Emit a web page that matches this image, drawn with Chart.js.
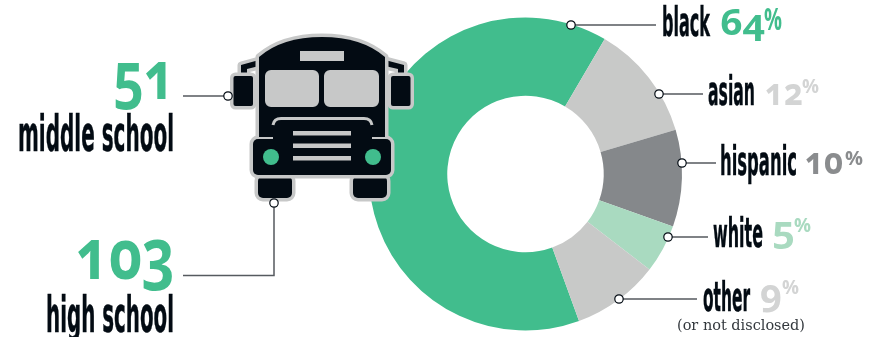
<!DOCTYPE html>
<html>
<head>
<meta charset="utf-8">
<title>Enrollment</title>
<script src="https://cdn.jsdelivr.net/npm/chart.js@4"></script>
<style>
    html, body { margin: 0; background: #fff; }
    #wrap { position: relative; width: 869px; height: 337px; overflow: hidden; }
    #chart, #labels { position: absolute; left: 0; top: 0; }
    .name { font-family: "DejaVu Sans"; font-weight: 700; fill: #030b13; stroke: #030b13; stroke-width: 0.5; }
    .num { font-family: "Open Sans"; font-weight: 700; font-feature-settings: "onum"; }
    .pct { font-family: "Open Sans"; font-weight: 700; }
    .note { font-family: "DejaVu Serif"; fill: #33383d; }
</style>
</head>
<body>
<div id="wrap">
    <canvas id="chart" width="869" height="337"></canvas>
    <svg id="labels" width="869" height="337"></svg>
</div>
<script>
const categories = ["black", "asian", "hispanic", "white", "other"];
const shares = [64, 12, 10, 5, 9];
const sliceColors = ["#41bd8d", "#c8c9c8", "#85888b", "#a9dac0", "#c8c9c8"];
const valueColors = ["#41bd8d", "#d3d4d4", "#8a8c8e", "#a9dac0", "#d3d4d4"];

const schools = ["middle school", "high school"];
const schoolCounts = [51, 103];

const INK = "#030b13";
const LEADER = "#565a5f";
const SHELL = "#c7c8c8";

// =========================
// LABEL LAYOUT
// =========================
const sliceLabels = [
    { dot: [571, 25], lineEnd: 656, name: [662, 36, 48], value: [720, 35, 45, 36], pct: [764, 30, 18, 30] },
    { dot: [659, 94], lineEnd: 703, name: [708, 105, 47], value: [765, 105, 38, 37], pct: [802, 93, 17, 20] },
    { dot: [682, 163], lineEnd: 716, name: [720, 175, 77], value: [805, 174, 38, 37], pct: [845, 165, 18, 20] },
    { dot: [668, 237], lineEnd: 708, name: [713, 247, 50], value: [772, 243, 23, 37], pct: [794, 232, 17, 20] },
    { dot: [619, 299], lineEnd: 697, name: [703, 311, 47], value: [760, 306, 22, 37], pct: [782, 294, 17, 20] }
];
const schoolLabels = [
    { name: [18, 151, 156], value: [113, 99, 62, 67] },
    { name: [46, 332, 128], value: [76, 279, 99, 69] }
];

// =========================
// SVG TEXT
// =========================
const svg = document.getElementById("labels");

function addText(cls, x, y, width, size, str, fill) {
    const t = document.createElementNS("http://www.w3.org/2000/svg", "text");
    t.setAttribute("class", cls);
    t.setAttribute("x", x);
    t.setAttribute("y", y);
    t.setAttribute("textLength", width);
    t.setAttribute("lengthAdjust", "spacingAndGlyphs");
    t.setAttribute("font-size", size);
    if (fill) t.setAttribute("fill", fill);
    t.textContent = str;
    svg.appendChild(t);
}

categories.forEach((cat, i) => {
    const l = sliceLabels[i];
    addText("name", l.name[0], l.name[1], l.name[2], 40, cat);
    addText("num", l.value[0], l.value[1], l.value[2], l.value[3], String(shares[i]), valueColors[i]);
    addText("pct", l.pct[0], l.pct[1], l.pct[2], l.pct[3], "%", valueColors[i]);
});
addText("note", 677, 330, 128, 15, "(or not disclosed)");

schools.forEach((s, i) => {
    const l = schoolLabels[i];
    addText("name", l.name[0], l.name[1], l.name[2], 49, s);
    addText("num", l.value[0], l.value[1], l.value[2], l.value[3], String(schoolCounts[i]), "#41bd8d");
});

// =========================
// BUS AND LEADER LINES
// =========================
function shape(ctx, build) {
    ctx.beginPath();
    build();
    ctx.lineWidth = 7;
    ctx.strokeStyle = SHELL;
    ctx.stroke();
    ctx.fillStyle = INK;
    ctx.fill();
}

function drawBus(ctx) {
    ctx.save();
    ctx.lineJoin = "round";

    // mirrors and their arms
    [[233.5, 241, 247, 259], [391, 404, 398, 385]].forEach(([mx, ax, bx, cx]) => {
        shape(ctx, () => {
            ctx.moveTo(cx, 60);
            ctx.lineTo(ax, 65);
            ctx.lineTo(ax, 76);
            ctx.lineTo(bx, 76);
            ctx.lineTo(bx, 69);
            ctx.lineTo(cx, 66);
            ctx.closePath();
        });
        shape(ctx, () => ctx.roundRect(mx, 76, 19.5, 30, 2));
    });

    // wheels
    shape(ctx, () => ctx.roundRect(258, 176, 34, 22, 5));
    shape(ctx, () => ctx.roundRect(353, 176, 34, 22, 5));

    // cab with the roof curve, then the hood in front of it
    shape(ctx, () => {
        ctx.moveTo(259, 145);
        ctx.lineTo(259, 57);
        ctx.quadraticCurveTo(282, 37, 322, 37);
        ctx.quadraticCurveTo(362, 37, 385, 57);
        ctx.lineTo(385, 145);
        ctx.closePath();
    });
    shape(ctx, () => ctx.roundRect(253, 139, 138, 36, 5));

    // cover the outline where hood meets the cab
    ctx.fillStyle = INK;
    ctx.fillRect(273, 130, 99, 14);
    ctx.fillRect(259, 120, 126, 17);

    // destination sign, windshield, hood trim, grille
    ctx.fillStyle = SHELL;
    ctx.fillRect(300, 51, 44, 10);
    ctx.beginPath();
    ctx.roundRect(265, 70, 54, 37, 6);
    ctx.roundRect(324, 70, 55, 37, 6);
    ctx.fill();

    ctx.beginPath();
    ctx.moveTo(273, 125);
    ctx.quadraticCurveTo(274, 118.5, 281, 118.5);
    ctx.lineTo(364, 118.5);
    ctx.quadraticCurveTo(371, 118.5, 372, 125);
    ctx.lineWidth = 3;
    ctx.strokeStyle = SHELL;
    ctx.stroke();

    [131, 143.5, 156].forEach(y => ctx.fillRect(293, y, 58, 4.5));

    // headlights
    ctx.fillStyle = "#41bd8d";
    [271, 373].forEach(x => {
        ctx.beginPath();
        ctx.arc(x, 157, 8, 0, Math.PI * 2);
        ctx.fill();
    });
    ctx.restore();
}

function drawDot(ctx, x, y) {
    ctx.beginPath();
    ctx.arc(x, y, 4.2, 0, Math.PI * 2);
    ctx.fillStyle = "#fff";
    ctx.fill();
    ctx.lineWidth = 1.2;
    ctx.strokeStyle = INK;
    ctx.stroke();
}

function drawLeaders(ctx) {
    ctx.save();
    ctx.strokeStyle = LEADER;
    ctx.lineWidth = 1.5;
    ctx.beginPath();
    sliceLabels.forEach(l => {
        ctx.moveTo(l.dot[0], l.dot[1]);
        ctx.lineTo(l.lineEnd, l.dot[1]);
    });
    ctx.moveTo(183, 96);
    ctx.lineTo(228, 96);
    ctx.moveTo(183, 275.5);
    ctx.lineTo(274, 275.5);
    ctx.lineTo(274, 203);
    ctx.stroke();

    sliceLabels.forEach(l => drawDot(ctx, l.dot[0], l.dot[1]));
    drawDot(ctx, 228, 96);
    drawDot(ctx, 274, 203);
    ctx.restore();
}

const decorations = {
    id: "decorations",
    afterDatasetsDraw(chart) {
        drawBus(chart.ctx);
        drawLeaders(chart.ctx);
    }
};

// =========================
// DOUGHNUT
// =========================
new Chart(document.getElementById("chart").getContext("2d"), {
    type: "doughnut",
    data: {
        labels: categories,
        datasets: [{
            data: shares,
            backgroundColor: sliceColors,
            borderWidth: 0
        }]
    },
    options: {
        responsive: false,
        animation: false,
        rotation: 160,
        cutout: "50%",
        layout: { padding: { left: 369, right: 187, top: 17, bottom: 6 } },
        plugins: { legend: { display: false }, tooltip: { enabled: false } }
    },
    plugins: [decorations]
});
</script>
</body>
</html>
